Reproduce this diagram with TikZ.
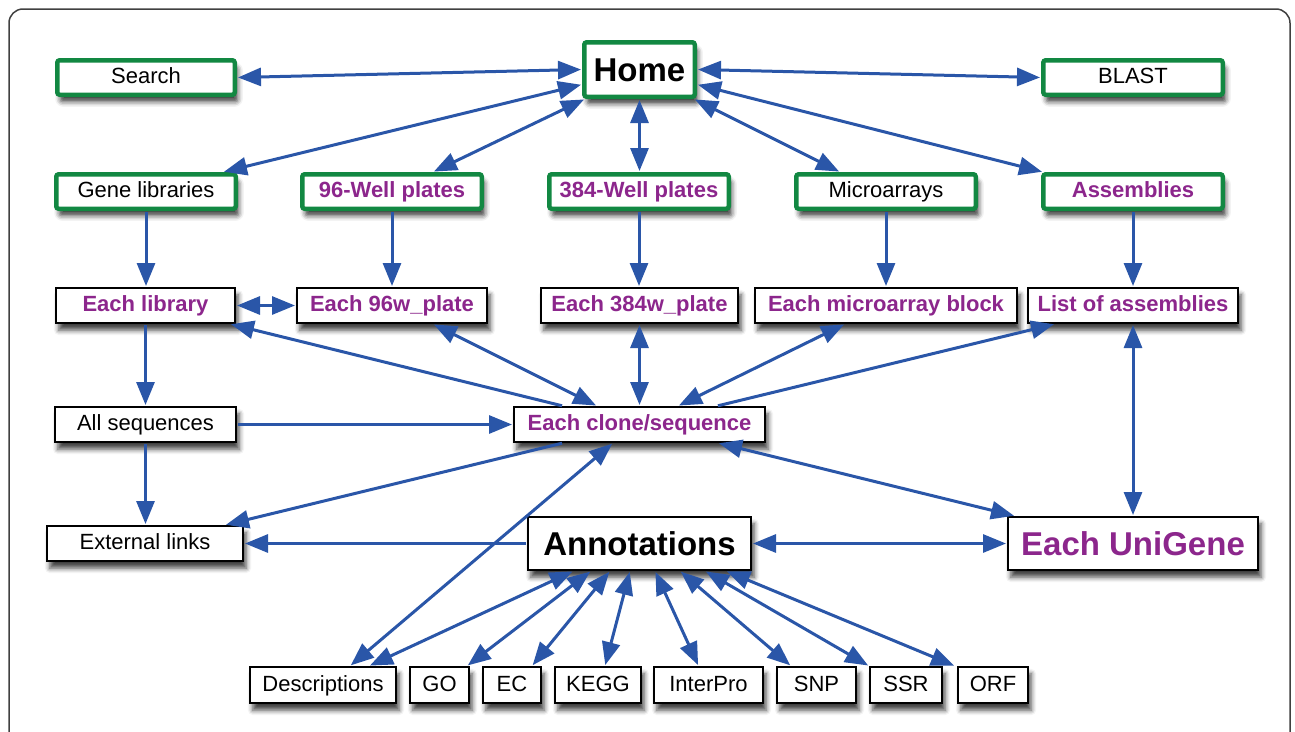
\documentclass[tikz,border=0pt]{standalone}
\usepackage{fontspec}
\setmainfont{Liberation Sans}
\usetikzlibrary{arrows.meta,shadows.blur,calc}
\definecolor{ablue}{RGB}{42,86,168}
\definecolor{bgreen}{RGB}{18,136,66}
\definecolor{tpurple}{RGB}{140,38,140}
\begin{document}
\begin{tikzpicture}[x=1pt,y=-1pt,
  base/.style={fill=white, inner sep=0pt, text height=15.8pt, text depth=3.4pt,
    font=\fontsize{22}{26}\selectfont,
    blur shadow={shadow xshift=3pt, shadow yshift=-7pt, shadow blur radius=5pt, shadow opacity=75}},
  gbox/.style={base, draw=bgreen, line width=4.5pt, rounded corners=2.5pt},
  bbox/.style={base, draw=black, line width=1.8pt},
  pur/.style={text=tpurple, font=\fontsize{22}{26}\selectfont\bfseries},
  big/.style={font=\fontsize{33}{38}\selectfont\bfseries, text height=23.7pt, text depth=0pt},
  gsz/.style 2 args={minimum width=#1pt-4.5pt, minimum height=#2pt-4.5pt},
  bsz/.style 2 args={minimum width=#1pt-1.8pt, minimum height=#2pt-1.8pt},
  link/.style={draw=ablue, line width=3pt, shorten >=1pt, shorten <=1pt},
  both/.style={link, {Triangle[length=23pt,width=18pt]}-{Triangle[length=23pt,width=18pt]}},
  one/.style={link, -{Triangle[length=23pt,width=18pt]}},
]
\useasboundingbox (0,0) rectangle (1295,731);
\clip (0,0) rectangle (1295,731);
\draw[line width=1.5pt, black!75, rounded corners=14pt] (9,9) rectangle (1290,760);

% row 1
\node[gbox, gsz={182}{39}] (search) at (146,77.5) {Search};
\node[gbox, big, gsz={115}{59}] (home) at (639.5,69.5) {Home};
\node[gbox, gsz={184}{39}] (blast) at (1133,77.5) {BLAST};
% row 2
\node[gbox, gsz={184}{39}] (genelib) at (146,191.5) {Gene libraries};
\node[gbox, pur, gsz={184}{39}] (well96) at (392,191.5) {96-Well plates};
\node[gbox, pur, gsz={184}{39}] (well384) at (639,191.5) {384-Well plates};
\node[gbox, gsz={184}{39}] (microarrays) at (886,191.5) {Microarrays};
\node[gbox, pur, gsz={184}{39}] (assemblies) at (1133,191.5) {Assemblies};
% row 3
\node[bbox, pur, bsz={181}{37}] (eachlib) at (145.5,305.5) {Each library};
\node[bbox, pur, bsz={192}{37}] (each96) at (392,305.5) {Each 96w\_plate};
\node[bbox, pur, bsz={199}{37}] (each384) at (639.5,305.5) {Each 384w\_plate};
\node[bbox, pur, bsz={264}{37}] (eachmicro) at (886,305.5) {Each microarray block};
\node[bbox, pur, bsz={212}{37}] (listasm) at (1133,305.5) {List of assemblies};
% row 4
\node[bbox, bsz={183}{37}] (allseq) at (145.5,424.5) {All sequences};
\node[bbox, pur, bsz={253}{37}] (clone) at (639.5,424.5) {Each clone/sequence};
% row 5
\node[bbox, bsz={198}{37}] (extlinks) at (145,543.5) {External links};
\node[bbox, big, bsz={225}{55}] (annot) at (639.5,543.5) {Annotations};
\node[bbox, pur, big, bsz={252}{55}] (unigene) at (1133,543.5) {Each UniGene};
% row 6
\node[bbox, bsz={148}{38}] (desc) at (323,685) {Descriptions};
\node[bbox, bsz={61}{38}] (go) at (439.5,685) {GO};
\node[bbox, bsz={60}{38}] (ec) at (512,685) {EC};
\node[bbox, bsz={88}{38}] (kegg) at (598,685) {KEGG};
\node[bbox, bsz={111}{38}] (interpro) at (708.5,685) {InterPro};
\node[bbox, bsz={81}{38}] (snp) at (816.5,685) {SNP};
\node[bbox, bsz={74}{38}] (ssr) at (906,685) {SSR};
\node[bbox, bsz={72}{38}] (orf) at (993,685) {ORF};

% connectors from Home
\draw[both] (search.east) -- (home.west);
\draw[both] (home.east) -- (blast.west);
\draw[both] ($(home.west)+(0,15)$) -- ($(genelib.north)+(77,0)$);
\draw[both] ($(home.south west)+(3,0)$) -- ($(well96.north)+(41,0)$);
\draw[both] (home.south) -- (home.south |- well384.north);
\draw[both] ($(home.south east)+(-3,0)$) -- ($(microarrays.north)+(-46,0)$);
\draw[both] ($(home.east)+(0,15)$) -- ($(assemblies.north)+(-90,0)$);
% row 2 to row 3
\draw[one] (genelib.south) -- (genelib.south |- eachlib.north);
\draw[one] (well96.south) -- (well96.south |- each96.north);
\draw[one] (well384.south) -- (well384.south |- each384.north);
\draw[one] (microarrays.south) -- (microarrays.south |- eachmicro.north);
\draw[one] (assemblies.south) -- (assemblies.south |- listasm.north);
\draw[both] (eachlib.east) -- (each96.west);
% left column
\draw[one] (eachlib.south) -- (eachlib.south |- allseq.north);
\draw[one] (allseq.south) -- (allseq.south |- extlinks.north);
\draw[one] (allseq.east) -- (allseq.east -| clone.west);
% around clone
\draw[one] ($(clone.north)+(-76.5,0)$) -- ($(eachlib.south east)+(-6,0)$);
\draw[both] ($(each96.south)+(41,0)$) -- ($(clone.north)+(-42.5,0)$);
\draw[both] (each384.south) -- (clone.north);
\draw[both] ($(eachmicro.south)+(-41,0)$) -- ($(clone.north)+(38.5,0)$);
\draw[one] ($(clone.north)+(77.5,0)$) -- ($(listasm.south)+(-78,0)$);
\draw[both] (listasm.south) -- (unigene.north);
\draw[both] ($(clone.south)+(78.5,0)$) -- ($(unigene.north west)+(8,0)$);
\draw[both] (annot.east) -- (unigene.west);
\draw[one] (annot.west) -- (extlinks.east);
\draw[one] ($(clone.south)+(-76.5,0)$) -- ($(extlinks.north east)+(-19,0)$);
\draw[both] ($(desc.north)+(27,0)$) -- ($(clone.south)+(-26.5,0)$);
% annotations to bottom row
\draw[both] ($(annot.south)+(-66,0)$) -- ($(desc.north)+(46,0)$);
\draw[both] ($(annot.south)+(-48.5,0)$) -- ($(go.north east)+(-3,0)$);
\draw[both] ($(annot.south)+(-29.5,0)$) -- ($(ec.north east)+(-10,0)$);
\draw[both] ($(annot.south)+(-9.5,0)$) -- ($(kegg.north)+(7,0)$);
\draw[both] ($(annot.south)+(15.5,0)$) -- ($(interpro.north)+(-10,0)$);
\draw[both] ($(annot.south)+(40.5,0)$) -- ($(snp.north west)+(15,0)$);
\draw[both] ($(annot.south)+(65.5,0)$) -- (ssr.north west);
\draw[both] ($(annot.south)+(86.5,0)$) -- ($(orf.north west)+(-2,0)$);
\end{tikzpicture}
\end{document}
